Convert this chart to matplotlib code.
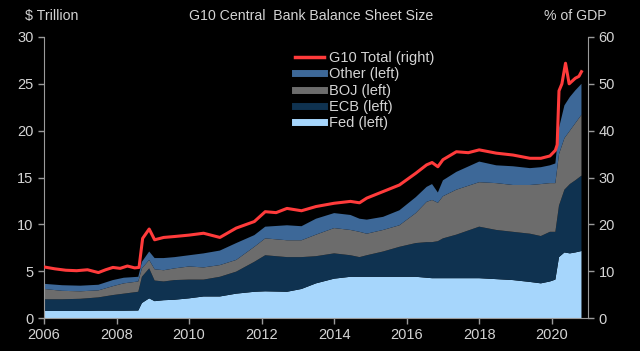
import matplotlib
matplotlib.use("Agg")
import matplotlib.pyplot as plt
from matplotlib.lines import Line2D

plt.rcParams['font.family'] = ['Liberation Sans', 'DejaVu Sans']

# decimal-year dates
dates = [2006.0, 2006.5, 2007.0, 2007.5, 2007.9, 2008.2, 2008.6, 2008.7, 2008.9,
         2009.05, 2009.3, 2009.6, 2010.0, 2010.4, 2010.85, 2011.3, 2011.8, 2012.1,
         2012.7, 2013.1, 2013.5, 2014.0, 2014.45, 2014.7, 2014.9, 2015.35, 2015.8,
         2016.25, 2016.55, 2016.7, 2016.86, 2017.0, 2017.37, 2018.0, 2018.47,
         2018.93, 2019.4, 2019.7, 2019.95, 2020.1, 2020.2, 2020.35, 2020.5,
         2020.65, 2020.82]

# $ trillion (left axis)
fed = [0.75, 0.75, 0.75, 0.78, 0.78, 0.78, 0.80, 1.60, 2.10,
       1.80, 1.90, 1.95, 2.10, 2.30, 2.30, 2.60, 2.80, 2.85,
       2.80, 3.10, 3.70, 4.20, 4.40, 4.40, 4.40, 4.40, 4.40,
       4.40, 4.30, 4.25, 4.25, 4.25, 4.25, 4.25, 4.15,
       4.05, 3.85, 3.70, 3.90, 4.10, 6.50, 7.00, 6.90,
       7.00, 7.15]
ecb = [1.25, 1.25, 1.30, 1.42, 1.67, 1.82, 2.00, 2.80, 3.20,
       2.20, 2.00, 2.10, 2.00, 1.80, 2.10, 2.35, 3.20, 3.85,
       3.70, 3.40, 2.90, 2.70, 2.30, 2.10, 2.30, 2.70, 3.20,
       3.60, 3.80, 3.85, 3.95, 4.25, 4.65, 5.50, 5.25,
       5.15, 5.15, 5.05, 5.30, 5.10, 5.50, 6.70, 7.40,
       7.70, 8.05]
boj = [1.10, 0.90, 0.80, 0.75, 0.95, 1.10, 1.10, 0.90, 0.90,
       1.20, 1.20, 1.25, 1.40, 1.30, 1.25, 1.25, 1.60, 1.80,
       1.80, 1.80, 2.30, 2.70, 2.70, 2.70, 2.30, 2.30, 2.30,
       3.20, 4.30, 4.50, 4.10, 4.50, 4.80, 4.75, 5.00,
       5.00, 5.20, 5.55, 5.20, 5.20, 5.50, 5.50, 5.70,
       6.10, 6.50]
other = [0.55, 0.60, 0.60, 0.60, 0.65, 0.60, 0.50, 0.70, 0.90,
         1.20, 1.30, 1.20, 1.20, 1.50, 1.55, 1.80, 1.25, 1.25,
         1.60, 1.50, 1.70, 1.60, 1.60, 1.40, 1.50, 1.40, 1.60,
         1.70, 1.60, 1.70, 1.10, 1.70, 1.90, 2.20, 1.90,
         2.00, 1.80, 1.80, 1.90, 2.10, 2.80, 3.50, 3.60,
         3.50, 3.30]

# % of GDP (right axis)
g10_dates = [2006.0, 2006.3, 2006.6, 2006.9, 2007.2, 2007.5, 2007.7, 2007.9, 2008.1,
             2008.3, 2008.5, 2008.62, 2008.72, 2008.9, 2009.05, 2009.3, 2009.6,
             2010.0, 2010.4, 2010.85, 2011.3, 2011.8, 2012.1, 2012.4, 2012.7,
             2013.1, 2013.5, 2014.0, 2014.45, 2014.7, 2014.9, 2015.35, 2015.8,
             2016.25, 2016.55, 2016.7, 2016.86, 2017.0, 2017.37, 2017.7, 2018.0,
             2018.47, 2018.93, 2019.4, 2019.7, 2019.95, 2020.1, 2020.15, 2020.2,
             2020.28, 2020.38, 2020.48, 2020.65, 2020.75, 2020.82]
g10_total = [10.9, 10.5, 10.2, 10.1, 10.3, 9.7, 10.3, 10.8, 10.6,
             11.1, 10.7, 10.8, 17.0, 19.0, 16.7, 17.2, 17.4,
             17.7, 18.1, 17.2, 19.2, 20.6, 22.7, 22.5, 23.4,
             22.9, 23.8, 24.5, 24.9, 24.6, 25.6, 27.0, 28.4,
             30.9, 32.7, 33.2, 32.3, 33.8, 35.5, 35.3, 35.9,
             35.2, 34.8, 34.1, 34.1, 34.6, 35.8, 37.0, 48.5,
             50.0, 54.4, 50.0, 51.2, 51.6, 52.6]

series_labels = ["Fed (left)", "ECB (left)", "BOJ (left)", "Other (left)"]
total_label = "G10 Total (right)"
left_ticks = [0, 5, 10, 15, 20, 25, 30]
right_ticks = [0, 10, 20, 30, 40, 50, 60]
x_ticks = [2006, 2008, 2010, 2012, 2014, 2016, 2018, 2020]

colors = ["#a6d6fc", "#0f3250", "#6c6c6c", "#3d6898"]
red = "#ff3b3b"
txt = "#d4d4d4"
spine_c = "#9a9a9a"

fig = plt.figure(figsize=(6.4, 3.51), dpi=100, facecolor="black")
ax = fig.add_axes([44/640, 1-318/351, (588-44)/640, (318-37)/351])
ax.set_facecolor("black")
ax.stackplot(dates, fed, ecb, boj, other, colors=colors, linewidth=0)
ax.set_xlim(2006, 2021.0)
ax.set_ylim(0, 30)
ax.set_yticks(left_ticks)
ax.set_xticks(x_ticks)
ax.tick_params(colors=spine_c, labelcolor=txt, labelsize=10.5, length=4, width=1)
for s in ["top", "right"]:
    ax.spines[s].set_visible(False)
for s in ["left", "bottom"]:
    ax.spines[s].set_color(spine_c)

ax2 = ax.twinx()
ax2.plot(g10_dates, g10_total, color=red, lw=2.2)
ax2.set_ylim(0, 60)
ax2.set_yticks(right_ticks)
ax2.tick_params(colors=spine_c, labelcolor=txt, labelsize=10.5, length=4, width=1)
for s in ["top", "left", "bottom"]:
    ax2.spines[s].set_visible(False)
ax2.spines["right"].set_color(spine_c)

handles = [Line2D([], [], color=red, lw=2.5)] + \
          [Line2D([], [], color=c, lw=5) for c in colors[::-1]]
labels = [total_label] + series_labels[::-1]
leg = ax2.legend(handles, labels, loc="upper left", bbox_to_anchor=(0.451, 0.97),
                 frameon=False, fontsize=10.5, handlelength=2.0, handletextpad=0.35,
                 labelspacing=0.15, borderaxespad=0)
for t in leg.get_texts():
    t.set_color(txt)

fig.text(311/640, 1-16/351, "G10 Central  Bank Balance Sheet Size", color=txt,
         fontsize=10.2, ha="center", va="center")
fig.text(25/640, 1-16/351, "$ Trillion", color=txt, fontsize=10.2, ha="left", va="center")
fig.text(607/640, 1-16/351, "% of GDP", color=txt, fontsize=10.2, ha="right", va="center")

fig.savefig("out.png", dpi=100, facecolor="black")
